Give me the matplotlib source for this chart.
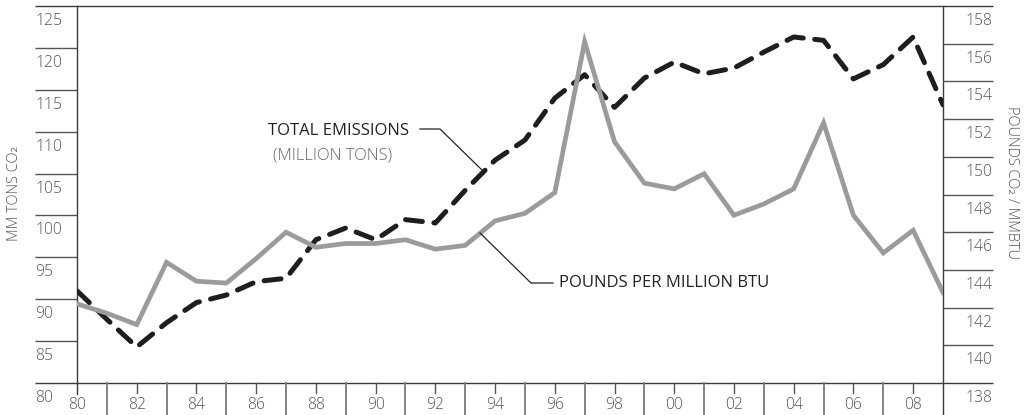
import matplotlib
matplotlib.use('Agg')
import matplotlib.pyplot as plt
from matplotlib import transforms as mtrans

# ---------------- data ----------------
years = list(range(1980, 2010))
total_emissions = [91.0, 87.6, 84.3, 87.2, 89.6, 90.5, 92.1, 92.5, 97.1, 98.5,
                   97.1, 99.5, 99.1, 103.0, 106.6, 109.0, 114.0, 116.8, 112.9, 116.4,
                   118.3, 116.9, 117.6, 119.5, 121.3, 120.9, 116.3, 118.0, 121.3, 113.2]
pounds_per_mmbtu = [142.2, 141.7, 141.1, 144.4, 143.4, 143.3, 144.6, 146.0, 145.2, 145.4,
                    145.4, 145.6, 145.1, 145.3, 146.6, 147.0, 148.1, 156.1, 150.8, 148.6,
                    148.3, 149.1, 146.9, 147.5, 148.3, 151.8, 146.9, 144.9, 146.1, 142.8]
left_ticks = [80, 85, 90, 95, 100, 105, 110, 115, 120, 125]
right_ticks = [138, 140, 142, 144, 146, 148, 150, 152, 154, 156, 158]
label_years = list(range(1980, 2009, 2))
xtick_labels = ['80', '82', '84', '86', '88', '90', '92', '94', '96', '98',
                '00', '02', '04', '06', '08']
sep_years = list(range(1981, 2010, 2))

# ---------------- layout ----------------
W, H = 1025, 415
FONT = ['Open Sans', 'DejaVu Sans']
plt.rcParams['font.family'] = FONT

fig = plt.figure(figsize=(W / 100, H / 100), dpi=100)
L, B, AW, AH = 77, 32, 866, 377
ax = fig.add_axes([L / W, B / H, AW / W, AH / H])
ax.set_xlim(1980, 2009)
ax.set_ylim(80, 125)
ax2 = ax.twinx()
ax2.set_ylim(138, 158)
for a in (ax, ax2):
    for s in a.spines.values():
        s.set_visible(False)
    a.set_xticks([])
    a.set_yticks([])
    a.patch.set_visible(False)

frame_c = '#3a3a3a'
tick_c = '#555555'
lab_c = '#555555'

ly = ax.get_yaxis_transform()
ry = ax2.get_yaxis_transform()
xt = ax.get_xaxis_transform()

left_ext = -42 / AW
right_ext = 1 + 50 / AW

# horizontal tick lines
for t in left_ticks:
    x1 = right_ext if t in (80, 125) else 0
    ax.plot([left_ext, x1], [t, t], transform=ly, color=frame_c if t in (80, 125) else tick_c,
            lw=1.0, clip_on=False, solid_capstyle='butt')
    ax.text(left_ext, t, str(t), transform=mtrans.offset_copy(ly, fig=fig, x=0, y=-15, units='dots'),
            ha='left', va='center', fontsize=11.3, color=lab_c, fontweight='light')
for t in right_ticks:
    if t not in (138, 158):
        ax2.plot([1, right_ext], [t, t], transform=ry, color=tick_c, lw=1.0,
                 clip_on=False, solid_capstyle='butt')
    ax2.text(right_ext - 1 / AW, t, str(t),
             transform=mtrans.offset_copy(ry, fig=fig, x=0, y=-15, units='dots'),
             ha='right', va='center', fontsize=11.3, color=lab_c, fontweight='light')

# vertical axis lines
ax.plot([1980, 1980], [1, -11 / AH], transform=xt, color=frame_c, lw=1.0, clip_on=False)
ax.plot([2009, 2009], [1, -B / AH], transform=xt, color=frame_c, lw=1.0, clip_on=False)
for yr in sep_years[:-1]:
    ax.plot([yr, yr], [0, -B / AH], transform=xt, color='#7a7a7a', lw=1.3, clip_on=False)
for yr, lab in zip(label_years, xtick_labels):
    if yr != 1980:
        ax.plot([yr, yr], [0, -10 / AH], transform=xt, color=tick_c, lw=1.0, clip_on=False)
    ax.text(yr, -22 / AH, lab, transform=xt, ha='center', va='center',
            fontsize=11.3, color=lab_c, fontweight='light')

# axis labels
fig.text(15 / W, 1 - 193 / H, 'MM TONS CO₂', rotation=90, ha='center', va='center',
         fontsize=10.5, color=lab_c, fontweight='light', family=FONT)
fig.text(1012 / W, 1 - 182 / H, 'POUNDS CO₂ / MMBTU', rotation=-90, ha='center', va='center',
         fontsize=10.5, color=lab_c, fontweight='light', family=FONT)

# ---------------- series ----------------
ax2.plot(years, pounds_per_mmbtu, color='#9b9b9b', lw=3.4, solid_joinstyle='miter', zorder=3)
ax.plot(years, total_emissions, color='#1e1e1e', lw=3.6, dashes=(3.4, 2.3),
        dash_capstyle='round', zorder=4)

# ---------------- annotations ----------------
def px2x(px):
    return 1980 + (px - L) / (AW / 29)

def py2l(py):
    return 80 + (383 - py) / (AH / 45)

def py2r(py):
    return 138 + (383 - py) / (AH / 20)

ax.plot([px2x(420), px2x(440), px2x(483)], [py2l(129), py2l(129), py2l(171)],
        color='#222222', lw=0.9, zorder=5)
ax.text(px2x(409), py2l(131), 'TOTAL EMISSIONS', ha='right', va='center',
        fontsize=12, color='#222222')
ax.text(px2x(333), py2l(155), '(MILLION TONS)', ha='center', va='center',
        fontsize=12, color='#666666', fontweight='light')

ax2.plot([px2x(480), px2x(531), px2x(553)], [py2r(233), py2r(283), py2r(283)],
         color='#222222', lw=0.9, zorder=5)
ax2.text(px2x(559), py2r(283), 'POUNDS PER MILLION BTU', ha='left', va='center',
         fontsize=12, color='#222222')

fig.savefig('out.png', dpi=100)
